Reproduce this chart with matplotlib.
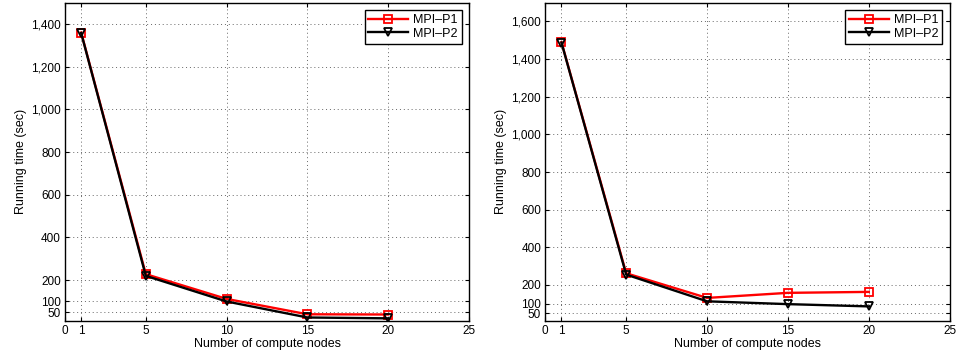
import matplotlib
matplotlib.use("Agg")
import matplotlib.pyplot as plt
from matplotlib.ticker import FuncFormatter

plt.rcParams['font.family'] = ['Liberation Sans', 'DejaVu Sans']

nodes = [1, 5, 10, 15, 20]
left_p1 = [1360, 228, 112, 40, 39]
left_p2 = [1358, 220, 100, 25, 21]
right_p1 = [1490, 262, 131, 158, 163]
right_p2 = [1488, 255, 113, 98, 86]
series_labels = ['MPI\u2013P1', 'MPI\u2013P2']
x_ticks = [0, 1, 5, 10, 15, 20, 25]
left_yticks = [50, 100, 200, 400, 600, 800, 1000, 1200, 1400]
right_yticks = [50, 100, 200, 400, 600, 800, 1000, 1200, 1400, 1600]

fig = plt.figure(figsize=(9.56, 3.57), dpi=100)
axL = fig.add_axes([0.068, 0.1017, 0.4226, 0.8908])
axR = fig.add_axes([0.5704, 0.1017, 0.4230, 0.8908])

fmt = FuncFormatter(lambda v, p: f"{int(v):,}")
FS = 9

def style(ax, p1, p2, yticks, ylim):
    ax.plot(nodes, p1, color='red', lw=1.7, marker='s', ms=5.5,
            mfc='none', mec='red', mew=1.3, label=series_labels[0], zorder=3)
    ax.plot(nodes, p2, color='black', lw=1.7, marker='v', ms=6,
            mfc='none', mec='black', mew=1.3, label=series_labels[1], zorder=4)
    ax.set_xlim(0, 25)
    ax.set_ylim(*ylim)
    ax.set_xticks(x_ticks)
    ax.set_yticks(yticks)
    ax.yaxis.set_major_formatter(fmt)
    ax.grid(True, linestyle=(0, (1, 3)), color='#666666', lw=0.7)
    ax.tick_params(direction='in', top=True, right=True, labelsize=8.5,
                   length=3, width=0.8, pad=3)
    for s in ax.spines.values():
        s.set_linewidth(1.0)
    ax.set_xlabel('Number of compute nodes', fontsize=FS, labelpad=1)
    ax.set_ylabel('Running time (sec)', fontsize=FS, labelpad=3)
    leg = ax.legend(loc='upper right', fontsize=FS, fancybox=False,
                    edgecolor='black', framealpha=1, handlelength=3.2,
                    borderpad=0.3, labelspacing=0.15, handletextpad=0.4,
                    borderaxespad=0.6)
    leg.get_frame().set_linewidth(1.0)

style(axL, left_p1, left_p2, left_yticks, (10, 1500))
style(axR, right_p1, right_p2, right_yticks, (10, 1700))

fig.savefig('out.png', dpi=100)
